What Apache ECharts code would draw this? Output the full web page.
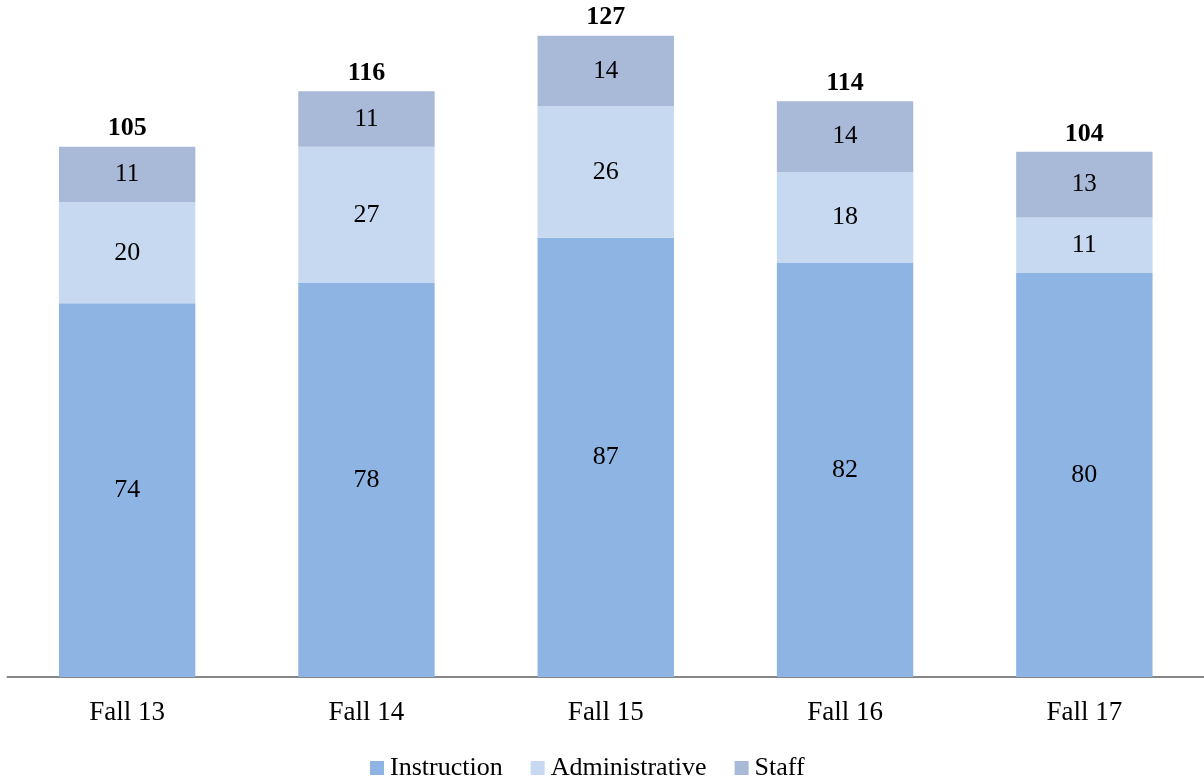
<!DOCTYPE html>
<html><head><meta charset="utf-8">
<script src="https://cdn.jsdelivr.net/npm/echarts@6/dist/echarts.min.js"></script>
<style>html,body{margin:0;padding:0;background:#fff}#c{width:1204px;height:778px}</style>
</head><body><div id="c"></div>
<script>
const categories = ['Fall 13','Fall 14','Fall 15','Fall 16','Fall 17'];
const instruction = [74, 78, 87, 82, 80];
const administrative = [20, 27, 26, 18, 11];
const staff = [11, 11, 14, 14, 13];
const totals = categories.map((c,i)=>instruction[i]+administrative[i]+staff[i]);

const FONT = '"Liberation Serif", "DejaVu Serif", serif';
const chart = echarts.init(document.getElementById('c'));
const inLabel = {show:true, position:'inside', color:'#000', fontFamily:FONT, fontSize:26};
chart.setOption({
  animation:false,
  textStyle:{fontFamily:FONT},
  grid:{left:7.5, width:1200, top:20.5, bottom:101, containLabel:false},
  legend:{data:['Instruction','Administrative','Staff'], top:750, left:365, itemWidth:14, itemHeight:14, itemGap:28, icon:'rect',
    textStyle:{fontFamily:FONT, fontSize:26, color:'#000', padding:[0,0,0,1]}},
  xAxis:{type:'category', data:categories, axisTick:{show:false},
    axisLine:{lineStyle:{color:'#868686', width:2}},
    axisLabel:{color:'#000', fontFamily:FONT, fontSize:27, margin:22}},
  yAxis:{type:'value', min:0, max:130, show:false, splitLine:{show:false}},
  series:[
    {name:'Instruction', type:'bar', stack:'s', data:instruction, barWidth:'57%', itemStyle:{color:'#8EB4E3'}, label:inLabel},
    {name:'Administrative', type:'bar', stack:'s', data:administrative, itemStyle:{color:'#C6D9F1'}, label:inLabel},
    {name:'Staff', type:'bar', stack:'s', data:staff, itemStyle:{color:'#A9B9D8'}, label:Object.assign({}, inLabel, {fontSize:25})},
    {name:'Total', type:'bar', stack:'s', data:totals.map(()=>0), itemStyle:{color:'transparent'},
      label:{show:true, position:'top', distance:5, color:'#000', fontFamily:FONT, fontSize:26, fontWeight:'bold',
        formatter:(p)=>String(totals[p.dataIndex])}}
  ]
});
</script></body></html>
